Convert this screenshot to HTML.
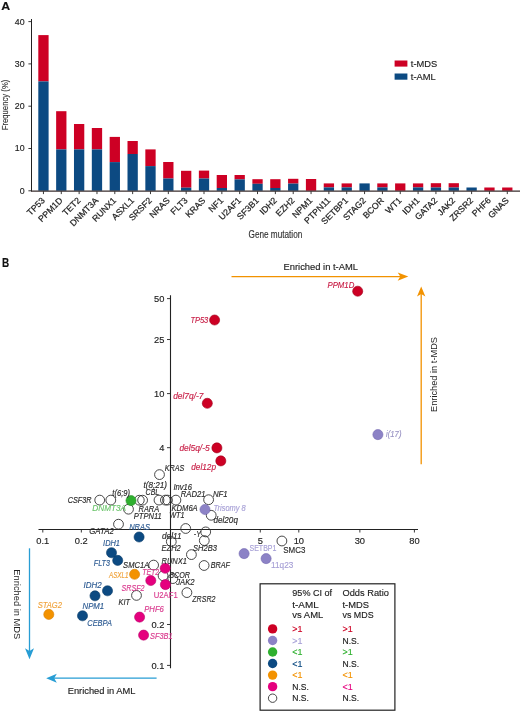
<!DOCTYPE html>
<html><head><meta charset="utf-8"><style>
html,body{margin:0;padding:0;background:#fff;}
body{width:520px;height:711px;overflow:hidden;}
svg{display:block;font-family:"Liberation Sans",sans-serif;will-change:transform;}
</style></head><body>
<svg width="520" height="711" viewBox="0 0 520 711">
<text x="1.20" y="10.40" font-size="11.4" fill="#111" text-anchor="start" stroke="#111" stroke-width="0.15" font-weight="bold" textLength="8.90" lengthAdjust="spacingAndGlyphs" >A</text>
<line x1="31.5" y1="19" x2="31.5" y2="191.3" stroke="#222" stroke-width="1"/>
<line x1="28.4" y1="190.80" x2="31.5" y2="190.80" stroke="#222" stroke-width="0.9"/>
<text x="24.60" y="193.70" font-size="8.8" fill="#222" text-anchor="end" stroke="#222" stroke-width="0.15" >0</text>
<line x1="28.4" y1="148.50" x2="31.5" y2="148.50" stroke="#222" stroke-width="0.9"/>
<text x="24.60" y="151.40" font-size="8.8" fill="#222" text-anchor="end" stroke="#222" stroke-width="0.15" >10</text>
<line x1="28.4" y1="106.20" x2="31.5" y2="106.20" stroke="#222" stroke-width="0.9"/>
<text x="24.60" y="109.10" font-size="8.8" fill="#222" text-anchor="end" stroke="#222" stroke-width="0.15" >20</text>
<line x1="28.4" y1="63.90" x2="31.5" y2="63.90" stroke="#222" stroke-width="0.9"/>
<text x="24.60" y="66.80" font-size="8.8" fill="#222" text-anchor="end" stroke="#222" stroke-width="0.15" >30</text>
<line x1="28.4" y1="21.60" x2="31.5" y2="21.60" stroke="#222" stroke-width="0.9"/>
<text x="24.60" y="24.50" font-size="8.8" fill="#222" text-anchor="end" stroke="#222" stroke-width="0.15" >40</text>
<rect x="38.30" y="35.10" width="10.3" height="46.30" fill="#cd0024"/>
<rect x="38.30" y="81.40" width="10.3" height="109.40" fill="#0c4a82"/>
<rect x="56.14" y="111.20" width="10.3" height="38.20" fill="#cd0024"/>
<rect x="56.14" y="149.40" width="10.3" height="41.40" fill="#0c4a82"/>
<rect x="73.98" y="124.00" width="10.3" height="25.40" fill="#cd0024"/>
<rect x="73.98" y="149.40" width="10.3" height="41.40" fill="#0c4a82"/>
<rect x="91.82" y="128.00" width="10.3" height="21.40" fill="#cd0024"/>
<rect x="91.82" y="149.40" width="10.3" height="41.40" fill="#0c4a82"/>
<rect x="109.66" y="136.90" width="10.3" height="25.20" fill="#cd0024"/>
<rect x="109.66" y="162.10" width="10.3" height="28.70" fill="#0c4a82"/>
<rect x="127.50" y="141.00" width="10.3" height="13.00" fill="#cd0024"/>
<rect x="127.50" y="154.00" width="10.3" height="36.80" fill="#0c4a82"/>
<rect x="145.34" y="149.40" width="10.3" height="16.70" fill="#cd0024"/>
<rect x="145.34" y="166.10" width="10.3" height="24.70" fill="#0c4a82"/>
<rect x="163.18" y="162.00" width="10.3" height="16.50" fill="#cd0024"/>
<rect x="163.18" y="178.50" width="10.3" height="12.30" fill="#0c4a82"/>
<rect x="181.02" y="170.80" width="10.3" height="16.90" fill="#cd0024"/>
<rect x="181.02" y="187.70" width="10.3" height="3.10" fill="#0c4a82"/>
<rect x="198.86" y="170.60" width="10.3" height="7.90" fill="#cd0024"/>
<rect x="198.86" y="178.50" width="10.3" height="12.30" fill="#0c4a82"/>
<rect x="216.70" y="175.00" width="10.3" height="13.00" fill="#cd0024"/>
<rect x="216.70" y="188.00" width="10.3" height="2.80" fill="#0c4a82"/>
<rect x="234.54" y="175.00" width="10.3" height="4.40" fill="#cd0024"/>
<rect x="234.54" y="179.40" width="10.3" height="11.40" fill="#0c4a82"/>
<rect x="252.38" y="179.20" width="10.3" height="4.60" fill="#cd0024"/>
<rect x="252.38" y="183.80" width="10.3" height="7.00" fill="#0c4a82"/>
<rect x="270.22" y="179.20" width="10.3" height="8.80" fill="#cd0024"/>
<rect x="270.22" y="188.00" width="10.3" height="2.80" fill="#0c4a82"/>
<rect x="288.06" y="178.80" width="10.3" height="4.80" fill="#cd0024"/>
<rect x="288.06" y="183.60" width="10.3" height="7.20" fill="#0c4a82"/>
<rect x="305.90" y="179.00" width="10.3" height="11.80" fill="#cd0024"/>
<rect x="323.74" y="183.40" width="10.3" height="4.00" fill="#cd0024"/>
<rect x="323.74" y="187.40" width="10.3" height="3.40" fill="#0c4a82"/>
<rect x="341.58" y="183.40" width="10.3" height="4.00" fill="#cd0024"/>
<rect x="341.58" y="187.40" width="10.3" height="3.40" fill="#0c4a82"/>
<rect x="359.42" y="183.40" width="10.3" height="7.40" fill="#0c4a82"/>
<rect x="377.26" y="183.40" width="10.3" height="4.00" fill="#cd0024"/>
<rect x="377.26" y="187.40" width="10.3" height="3.40" fill="#0c4a82"/>
<rect x="395.10" y="183.40" width="10.3" height="7.40" fill="#cd0024"/>
<rect x="412.94" y="183.40" width="10.3" height="4.00" fill="#cd0024"/>
<rect x="412.94" y="187.40" width="10.3" height="3.40" fill="#0c4a82"/>
<rect x="430.78" y="183.20" width="10.3" height="4.30" fill="#cd0024"/>
<rect x="430.78" y="187.50" width="10.3" height="3.30" fill="#0c4a82"/>
<rect x="448.62" y="183.20" width="10.3" height="4.30" fill="#cd0024"/>
<rect x="448.62" y="187.50" width="10.3" height="3.30" fill="#0c4a82"/>
<rect x="466.46" y="187.50" width="10.3" height="3.30" fill="#0c4a82"/>
<rect x="484.30" y="187.50" width="10.3" height="3.30" fill="#cd0024"/>
<rect x="502.14" y="187.50" width="10.3" height="3.30" fill="#cd0024"/>
<line x1="31.0" y1="191.10000000000002" x2="520" y2="191.10000000000002" stroke="#3a2e2e" stroke-width="1.1"/>
<line x1="43.45" y1="191.3" x2="43.45" y2="194.10000000000002" stroke="#222" stroke-width="0.9"/>
<text x="0" y="0" font-size="8.8" fill="#222" stroke="#222" stroke-width="0.22" text-anchor="end" transform="translate(45.45,201.10) rotate(-45)">TP53</text>
<line x1="61.29" y1="191.3" x2="61.29" y2="194.10000000000002" stroke="#222" stroke-width="0.9"/>
<text x="0" y="0" font-size="8.8" fill="#222" stroke="#222" stroke-width="0.22" text-anchor="end" transform="translate(63.29,201.10) rotate(-45)">PPM1D</text>
<line x1="79.13" y1="191.3" x2="79.13" y2="194.10000000000002" stroke="#222" stroke-width="0.9"/>
<text x="0" y="0" font-size="8.8" fill="#222" stroke="#222" stroke-width="0.22" text-anchor="end" transform="translate(81.13,201.10) rotate(-45)">TET2</text>
<line x1="96.97" y1="191.3" x2="96.97" y2="194.10000000000002" stroke="#222" stroke-width="0.9"/>
<text x="0" y="0" font-size="8.8" fill="#222" stroke="#222" stroke-width="0.22" text-anchor="end" transform="translate(98.97,201.10) rotate(-45)">DNMT3A</text>
<line x1="114.81" y1="191.3" x2="114.81" y2="194.10000000000002" stroke="#222" stroke-width="0.9"/>
<text x="0" y="0" font-size="8.8" fill="#222" stroke="#222" stroke-width="0.22" text-anchor="end" transform="translate(116.81,201.10) rotate(-45)">RUNX1</text>
<line x1="132.65" y1="191.3" x2="132.65" y2="194.10000000000002" stroke="#222" stroke-width="0.9"/>
<text x="0" y="0" font-size="8.8" fill="#222" stroke="#222" stroke-width="0.22" text-anchor="end" transform="translate(134.65,201.10) rotate(-45)">ASXL1</text>
<line x1="150.49" y1="191.3" x2="150.49" y2="194.10000000000002" stroke="#222" stroke-width="0.9"/>
<text x="0" y="0" font-size="8.8" fill="#222" stroke="#222" stroke-width="0.22" text-anchor="end" transform="translate(152.49,201.10) rotate(-45)">SRSF2</text>
<line x1="168.33" y1="191.3" x2="168.33" y2="194.10000000000002" stroke="#222" stroke-width="0.9"/>
<text x="0" y="0" font-size="8.8" fill="#222" stroke="#222" stroke-width="0.22" text-anchor="end" transform="translate(170.33,201.10) rotate(-45)">NRAS</text>
<line x1="186.17" y1="191.3" x2="186.17" y2="194.10000000000002" stroke="#222" stroke-width="0.9"/>
<text x="0" y="0" font-size="8.8" fill="#222" stroke="#222" stroke-width="0.22" text-anchor="end" transform="translate(188.17,201.10) rotate(-45)">FLT3</text>
<line x1="204.01" y1="191.3" x2="204.01" y2="194.10000000000002" stroke="#222" stroke-width="0.9"/>
<text x="0" y="0" font-size="8.8" fill="#222" stroke="#222" stroke-width="0.22" text-anchor="end" transform="translate(206.01,201.10) rotate(-45)">KRAS</text>
<line x1="221.85" y1="191.3" x2="221.85" y2="194.10000000000002" stroke="#222" stroke-width="0.9"/>
<text x="0" y="0" font-size="8.8" fill="#222" stroke="#222" stroke-width="0.22" text-anchor="end" transform="translate(223.85,201.10) rotate(-45)">NF1</text>
<line x1="239.69" y1="191.3" x2="239.69" y2="194.10000000000002" stroke="#222" stroke-width="0.9"/>
<text x="0" y="0" font-size="8.8" fill="#222" stroke="#222" stroke-width="0.22" text-anchor="end" transform="translate(241.69,201.10) rotate(-45)">U2AF1</text>
<line x1="257.53" y1="191.3" x2="257.53" y2="194.10000000000002" stroke="#222" stroke-width="0.9"/>
<text x="0" y="0" font-size="8.8" fill="#222" stroke="#222" stroke-width="0.22" text-anchor="end" transform="translate(259.53,201.10) rotate(-45)">SF3B1</text>
<line x1="275.37" y1="191.3" x2="275.37" y2="194.10000000000002" stroke="#222" stroke-width="0.9"/>
<text x="0" y="0" font-size="8.8" fill="#222" stroke="#222" stroke-width="0.22" text-anchor="end" transform="translate(277.37,201.10) rotate(-45)">IDH2</text>
<line x1="293.21" y1="191.3" x2="293.21" y2="194.10000000000002" stroke="#222" stroke-width="0.9"/>
<text x="0" y="0" font-size="8.8" fill="#222" stroke="#222" stroke-width="0.22" text-anchor="end" transform="translate(295.21,201.10) rotate(-45)">EZH2</text>
<line x1="311.05" y1="191.3" x2="311.05" y2="194.10000000000002" stroke="#222" stroke-width="0.9"/>
<text x="0" y="0" font-size="8.8" fill="#222" stroke="#222" stroke-width="0.22" text-anchor="end" transform="translate(313.05,201.10) rotate(-45)">NPM1</text>
<line x1="328.89" y1="191.3" x2="328.89" y2="194.10000000000002" stroke="#222" stroke-width="0.9"/>
<text x="0" y="0" font-size="8.8" fill="#222" stroke="#222" stroke-width="0.22" text-anchor="end" transform="translate(330.89,201.10) rotate(-45)">PTPN11</text>
<line x1="346.73" y1="191.3" x2="346.73" y2="194.10000000000002" stroke="#222" stroke-width="0.9"/>
<text x="0" y="0" font-size="8.8" fill="#222" stroke="#222" stroke-width="0.22" text-anchor="end" transform="translate(348.73,201.10) rotate(-45)">SETBP1</text>
<line x1="364.57" y1="191.3" x2="364.57" y2="194.10000000000002" stroke="#222" stroke-width="0.9"/>
<text x="0" y="0" font-size="8.8" fill="#222" stroke="#222" stroke-width="0.22" text-anchor="end" transform="translate(366.57,201.10) rotate(-45)">STAG2</text>
<line x1="382.41" y1="191.3" x2="382.41" y2="194.10000000000002" stroke="#222" stroke-width="0.9"/>
<text x="0" y="0" font-size="8.8" fill="#222" stroke="#222" stroke-width="0.22" text-anchor="end" transform="translate(384.41,201.10) rotate(-45)">BCOR</text>
<line x1="400.25" y1="191.3" x2="400.25" y2="194.10000000000002" stroke="#222" stroke-width="0.9"/>
<text x="0" y="0" font-size="8.8" fill="#222" stroke="#222" stroke-width="0.22" text-anchor="end" transform="translate(402.25,201.10) rotate(-45)">WT1</text>
<line x1="418.09" y1="191.3" x2="418.09" y2="194.10000000000002" stroke="#222" stroke-width="0.9"/>
<text x="0" y="0" font-size="8.8" fill="#222" stroke="#222" stroke-width="0.22" text-anchor="end" transform="translate(420.09,201.10) rotate(-45)">IDH1</text>
<line x1="435.93" y1="191.3" x2="435.93" y2="194.10000000000002" stroke="#222" stroke-width="0.9"/>
<text x="0" y="0" font-size="8.8" fill="#222" stroke="#222" stroke-width="0.22" text-anchor="end" transform="translate(437.93,201.10) rotate(-45)">GATA2</text>
<line x1="453.77" y1="191.3" x2="453.77" y2="194.10000000000002" stroke="#222" stroke-width="0.9"/>
<text x="0" y="0" font-size="8.8" fill="#222" stroke="#222" stroke-width="0.22" text-anchor="end" transform="translate(455.77,201.10) rotate(-45)">JAK2</text>
<line x1="471.61" y1="191.3" x2="471.61" y2="194.10000000000002" stroke="#222" stroke-width="0.9"/>
<text x="0" y="0" font-size="8.8" fill="#222" stroke="#222" stroke-width="0.22" text-anchor="end" transform="translate(473.61,201.10) rotate(-45)">ZRSR2</text>
<line x1="489.45" y1="191.3" x2="489.45" y2="194.10000000000002" stroke="#222" stroke-width="0.9"/>
<text x="0" y="0" font-size="8.8" fill="#222" stroke="#222" stroke-width="0.22" text-anchor="end" transform="translate(491.45,201.10) rotate(-45)">PHF6</text>
<line x1="507.29" y1="191.3" x2="507.29" y2="194.10000000000002" stroke="#222" stroke-width="0.9"/>
<text x="0" y="0" font-size="8.8" fill="#222" stroke="#222" stroke-width="0.22" text-anchor="end" transform="translate(509.29,201.10) rotate(-45)">GNAS</text>
<text x="248.50" y="237.70" font-size="10.2" fill="#333" text-anchor="start" stroke="#333" stroke-width="0.15" textLength="53.80" lengthAdjust="spacingAndGlyphs" >Gene mutation</text>
<text x="0" y="0" font-size="9.5" fill="#333" stroke="#333" stroke-width="0.15" text-anchor="middle" textLength="50.7" lengthAdjust="spacingAndGlyphs" transform="translate(8.3,105.0) rotate(-90)">Frequency (%)</text>
<rect x="394.6" y="60.5" width="12.8" height="6.1" fill="#cd0024"/>
<rect x="394.6" y="73.5" width="12.8" height="6.2" fill="#0c4a82"/>
<text x="410.80" y="66.70" font-size="8.6" fill="#222" text-anchor="start" stroke="#222" stroke-width="0.15" textLength="26.40" lengthAdjust="spacingAndGlyphs" >t-MDS</text>
<text x="410.80" y="79.80" font-size="8.6" fill="#222" text-anchor="start" stroke="#222" stroke-width="0.15" textLength="24.90" lengthAdjust="spacingAndGlyphs" >t-AML</text>
<text x="1.90" y="266.90" font-size="12.4" fill="#111" text-anchor="start" stroke="#111" stroke-width="0.15" font-weight="bold" textLength="7.20" lengthAdjust="spacingAndGlyphs" >B</text>
<line x1="231.5" y1="276.6" x2="402" y2="276.6" stroke="#f29200" stroke-width="1.3"/>
<path d="M408.3,276.6 L397.7,272.4 L400.3,276.6 L397.7,280.8 Z" fill="#f29200"/>
<line x1="421.2" y1="464.2" x2="421.2" y2="292" stroke="#f29200" stroke-width="1.3"/>
<path d="M421.2,286.4 L417.0,296.6 L421.2,294.0 L425.4,296.6 Z" fill="#f29200"/>
<line x1="156.6" y1="678.2" x2="52" y2="678.2" stroke="#279dd4" stroke-width="1.3"/>
<path d="M46.2,678.2 L56.8,673.7 L54.2,678.2 L56.8,682.7 Z" fill="#279dd4"/>
<line x1="29.5" y1="548.3" x2="29.5" y2="653" stroke="#279dd4" stroke-width="1.3"/>
<path d="M29.5,659.2 L25.0,648.2 L29.5,650.9 L34.0,648.2 Z" fill="#279dd4"/>
<text x="283.50" y="270.00" font-size="9.4" fill="#222" text-anchor="start" stroke="#222" stroke-width="0.15" textLength="74.50" lengthAdjust="spacingAndGlyphs" >Enriched in t-AML</text>
<text x="0" y="0" font-size="9.3" fill="#222" textLength="75" lengthAdjust="spacingAndGlyphs" transform="translate(437.1,412.0) rotate(-90)">Enriched in t-MDS</text>
<text x="67.70" y="694.10" font-size="9.2" fill="#222" text-anchor="start" stroke="#222" stroke-width="0.15" textLength="67.80" lengthAdjust="spacingAndGlyphs" >Enriched in AML</text>
<text x="0" y="0" font-size="9.3" fill="#222" textLength="70" lengthAdjust="spacingAndGlyphs" transform="translate(14.0,569.3) rotate(90)">Enriched in MDS</text>
<line x1="170.5" y1="295.2" x2="170.5" y2="668.2" stroke="#222" stroke-width="1.1"/>
<line x1="38.5" y1="529.5" x2="418.0" y2="529.5" stroke="#222" stroke-width="1.1"/>
<line x1="167.0" y1="298.61" x2="170.5" y2="298.61" stroke="#222" stroke-width="0.9"/>
<text x="164.40" y="301.91" font-size="9.3" fill="#222" text-anchor="end" stroke="#222" stroke-width="0.15" >50</text>
<line x1="167.0" y1="339.52" x2="170.5" y2="339.52" stroke="#222" stroke-width="0.9"/>
<text x="164.40" y="342.82" font-size="9.3" fill="#222" text-anchor="end" stroke="#222" stroke-width="0.15" >25</text>
<line x1="167.0" y1="393.60" x2="170.5" y2="393.60" stroke="#222" stroke-width="0.9"/>
<text x="164.40" y="396.90" font-size="9.3" fill="#222" text-anchor="end" stroke="#222" stroke-width="0.15" >10</text>
<line x1="167.0" y1="447.68" x2="170.5" y2="447.68" stroke="#222" stroke-width="0.9"/>
<text x="164.40" y="450.98" font-size="9.3" fill="#222" text-anchor="end" stroke="#222" stroke-width="0.15" >4</text>
<line x1="167.0" y1="624.49" x2="170.5" y2="624.49" stroke="#222" stroke-width="0.9"/>
<text x="164.40" y="627.79" font-size="9.3" fill="#222" text-anchor="end" stroke="#222" stroke-width="0.15" >0.2</text>
<line x1="167.0" y1="665.40" x2="170.5" y2="665.40" stroke="#222" stroke-width="0.9"/>
<text x="164.40" y="668.70" font-size="9.3" fill="#222" text-anchor="end" stroke="#222" stroke-width="0.15" >0.1</text>
<line x1="42.80" y1="529.5" x2="42.80" y2="532.5" stroke="#222" stroke-width="0.9"/>
<text x="42.80" y="543.90" font-size="9.3" fill="#222" text-anchor="middle" stroke="#222" stroke-width="0.15" >0.1</text>
<line x1="81.33" y1="529.5" x2="81.33" y2="532.5" stroke="#222" stroke-width="0.9"/>
<text x="81.33" y="543.90" font-size="9.3" fill="#222" text-anchor="middle" stroke="#222" stroke-width="0.15" >0.2</text>
<line x1="260.27" y1="529.5" x2="260.27" y2="532.5" stroke="#222" stroke-width="0.9"/>
<text x="260.27" y="543.90" font-size="9.3" fill="#222" text-anchor="middle" stroke="#222" stroke-width="0.15" >5</text>
<line x1="298.80" y1="529.5" x2="298.80" y2="532.5" stroke="#222" stroke-width="0.9"/>
<text x="298.80" y="543.90" font-size="9.3" fill="#222" text-anchor="middle" stroke="#222" stroke-width="0.15" >10</text>
<line x1="359.87" y1="529.5" x2="359.87" y2="532.5" stroke="#222" stroke-width="0.9"/>
<text x="359.87" y="543.90" font-size="9.3" fill="#222" text-anchor="middle" stroke="#222" stroke-width="0.15" >30</text>
<line x1="414.40" y1="529.5" x2="414.40" y2="532.5" stroke="#222" stroke-width="0.9"/>
<text x="414.40" y="543.90" font-size="9.3" fill="#222" text-anchor="middle" stroke="#222" stroke-width="0.15" >80</text>
<circle cx="99.70" cy="500.10" r="4.90" fill="none" stroke="#333" stroke-width="0.9"/>
<circle cx="110.80" cy="500.10" r="4.90" fill="none" stroke="#333" stroke-width="0.9"/>
<circle cx="139.30" cy="500.20" r="4.90" fill="none" stroke="#333" stroke-width="0.9"/>
<circle cx="142.60" cy="500.20" r="4.90" fill="none" stroke="#333" stroke-width="0.9"/>
<circle cx="159.00" cy="500.10" r="4.90" fill="none" stroke="#333" stroke-width="0.9"/>
<circle cx="165.40" cy="500.10" r="4.90" fill="none" stroke="#333" stroke-width="0.9"/>
<circle cx="167.50" cy="500.10" r="4.90" fill="none" stroke="#333" stroke-width="0.9"/>
<circle cx="175.90" cy="500.10" r="4.90" fill="none" stroke="#333" stroke-width="0.9"/>
<circle cx="159.50" cy="474.60" r="4.90" fill="none" stroke="#333" stroke-width="0.9"/>
<circle cx="208.60" cy="499.70" r="4.90" fill="none" stroke="#333" stroke-width="0.9"/>
<circle cx="128.50" cy="509.20" r="4.90" fill="none" stroke="#333" stroke-width="0.9"/>
<circle cx="211.20" cy="515.30" r="4.90" fill="none" stroke="#333" stroke-width="0.9"/>
<circle cx="118.50" cy="524.20" r="4.90" fill="none" stroke="#333" stroke-width="0.9"/>
<circle cx="185.70" cy="528.50" r="4.90" fill="none" stroke="#333" stroke-width="0.9"/>
<circle cx="205.70" cy="531.90" r="4.90" fill="none" stroke="#333" stroke-width="0.9"/>
<circle cx="204.30" cy="540.60" r="4.90" fill="none" stroke="#333" stroke-width="0.9"/>
<circle cx="171.30" cy="541.60" r="4.90" fill="none" stroke="#333" stroke-width="0.9"/>
<circle cx="281.90" cy="541.00" r="4.90" fill="none" stroke="#333" stroke-width="0.9"/>
<circle cx="191.40" cy="554.60" r="4.90" fill="none" stroke="#333" stroke-width="0.9"/>
<circle cx="204.10" cy="565.50" r="4.90" fill="none" stroke="#333" stroke-width="0.9"/>
<circle cx="153.60" cy="565.10" r="4.90" fill="none" stroke="#333" stroke-width="0.9"/>
<circle cx="163.10" cy="575.80" r="4.90" fill="none" stroke="#333" stroke-width="0.9"/>
<circle cx="172.80" cy="578.60" r="4.90" fill="none" stroke="#333" stroke-width="0.9"/>
<circle cx="186.90" cy="592.60" r="4.90" fill="none" stroke="#333" stroke-width="0.9"/>
<circle cx="136.50" cy="595.40" r="4.90" fill="none" stroke="#333" stroke-width="0.9"/>
<circle cx="131.00" cy="500.60" r="5.05" fill="#2fb02f" stroke="#2e8f2e" stroke-width="0.6"/>
<circle cx="205.00" cy="509.50" r="5.05" fill="#8c82c6" stroke="#7468b0" stroke-width="0.6"/>
<circle cx="139.10" cy="537.00" r="5.05" fill="#0c4a82" stroke="#083a68" stroke-width="0.6"/>
<circle cx="111.50" cy="552.70" r="5.05" fill="#0c4a82" stroke="#083a68" stroke-width="0.6"/>
<circle cx="117.70" cy="560.40" r="5.05" fill="#0c4a82" stroke="#083a68" stroke-width="0.6"/>
<circle cx="107.50" cy="590.80" r="5.05" fill="#0c4a82" stroke="#083a68" stroke-width="0.6"/>
<circle cx="95.00" cy="595.80" r="5.05" fill="#0c4a82" stroke="#083a68" stroke-width="0.6"/>
<circle cx="82.50" cy="615.80" r="5.05" fill="#0c4a82" stroke="#083a68" stroke-width="0.6"/>
<circle cx="134.60" cy="574.30" r="5.05" fill="#f39200" stroke="#d98000" stroke-width="0.6"/>
<circle cx="48.80" cy="614.40" r="5.05" fill="#f39200" stroke="#d98000" stroke-width="0.6"/>
<circle cx="165.20" cy="568.30" r="5.05" fill="#e5007e" stroke="#b8006a" stroke-width="0.6"/>
<circle cx="150.80" cy="580.50" r="5.05" fill="#e5007e" stroke="#b8006a" stroke-width="0.6"/>
<circle cx="165.40" cy="584.60" r="5.05" fill="#e5007e" stroke="#b8006a" stroke-width="0.6"/>
<circle cx="139.60" cy="617.10" r="5.05" fill="#e5007e" stroke="#b8006a" stroke-width="0.6"/>
<circle cx="143.60" cy="635.10" r="5.05" fill="#e5007e" stroke="#b8006a" stroke-width="0.6"/>
<circle cx="244.10" cy="553.60" r="5.05" fill="#8c82c6" stroke="#7468b0" stroke-width="0.6"/>
<circle cx="266.10" cy="558.60" r="5.05" fill="#8c82c6" stroke="#7468b0" stroke-width="0.6"/>
<circle cx="377.90" cy="434.60" r="5.05" fill="#8c82c6" stroke="#7468b0" stroke-width="0.6"/>
<circle cx="357.70" cy="291.20" r="5.05" fill="#cd0024" stroke="#a0001c" stroke-width="0.6"/>
<circle cx="214.60" cy="320.00" r="5.05" fill="#cd0024" stroke="#a0001c" stroke-width="0.6"/>
<circle cx="207.30" cy="403.30" r="5.05" fill="#cd0024" stroke="#a0001c" stroke-width="0.6"/>
<circle cx="216.90" cy="447.90" r="5.05" fill="#cd0024" stroke="#a0001c" stroke-width="0.6"/>
<circle cx="220.80" cy="460.90" r="5.05" fill="#cd0024" stroke="#a0001c" stroke-width="0.6"/>
<text x="327.50" y="287.95" font-size="8.2" fill="#c81e46" text-anchor="start" stroke="#c81e46" stroke-width="0.15" font-style="italic" textLength="26.80" lengthAdjust="spacingAndGlyphs" >PPM1D</text>
<text x="190.40" y="322.95" font-size="8.2" fill="#c81e46" text-anchor="start" stroke="#c81e46" stroke-width="0.15" font-style="italic" textLength="17.90" lengthAdjust="spacingAndGlyphs" >TP53</text>
<text x="173.20" y="398.55" font-size="8.2" fill="#c81e46" text-anchor="start" stroke="#c81e46" stroke-width="0.15" font-style="italic" textLength="30.30" lengthAdjust="spacingAndGlyphs" >del7q/-7</text>
<text x="179.40" y="450.85" font-size="8.2" fill="#c81e46" text-anchor="start" stroke="#c81e46" stroke-width="0.15" font-style="italic" textLength="30.20" lengthAdjust="spacingAndGlyphs" >del5q/-5</text>
<text x="191.30" y="470.25" font-size="8.2" fill="#c81e46" text-anchor="start" stroke="#c81e46" stroke-width="0.15" font-style="italic" textLength="24.70" lengthAdjust="spacingAndGlyphs" >del12p</text>
<text x="386.00" y="437.15" font-size="8.2" fill="#9a94c4" text-anchor="start" stroke="#9a94c4" stroke-width="0.15" font-style="italic" textLength="15.50" lengthAdjust="spacingAndGlyphs" >i(17)</text>
<text x="164.80" y="471.25" font-size="8.2" fill="#2a2a2a" text-anchor="start" stroke="#2a2a2a" stroke-width="0.15" font-style="italic" textLength="19.60" lengthAdjust="spacingAndGlyphs" >KRAS</text>
<text x="143.50" y="487.55" font-size="8.2" fill="#2a2a2a" text-anchor="start" stroke="#2a2a2a" stroke-width="0.15" font-style="italic" textLength="23.60" lengthAdjust="spacingAndGlyphs" >t(8;21)</text>
<text x="173.40" y="490.25" font-size="8.2" fill="#2a2a2a" text-anchor="start" stroke="#2a2a2a" stroke-width="0.15" font-style="italic" textLength="18.60" lengthAdjust="spacingAndGlyphs" >Inv16</text>
<text x="145.60" y="495.45" font-size="8.2" fill="#2a2a2a" text-anchor="start" stroke="#2a2a2a" stroke-width="0.15" font-style="italic" textLength="13.60" lengthAdjust="spacingAndGlyphs" >CBL</text>
<text x="180.80" y="496.75" font-size="8.2" fill="#2a2a2a" text-anchor="start" stroke="#2a2a2a" stroke-width="0.15" font-style="italic" textLength="24.60" lengthAdjust="spacingAndGlyphs" >RAD21</text>
<text x="213.00" y="496.75" font-size="8.2" fill="#2a2a2a" text-anchor="start" stroke="#2a2a2a" stroke-width="0.15" font-style="italic" textLength="14.70" lengthAdjust="spacingAndGlyphs" >NF1</text>
<text x="67.70" y="502.95" font-size="8.2" fill="#2a2a2a" text-anchor="start" stroke="#2a2a2a" stroke-width="0.15" font-style="italic" textLength="23.80" lengthAdjust="spacingAndGlyphs" >CSF3R</text>
<text x="112.30" y="496.45" font-size="8.2" fill="#2a2a2a" text-anchor="start" stroke="#2a2a2a" stroke-width="0.15" font-style="italic" textLength="17.70" lengthAdjust="spacingAndGlyphs" >t(6;9)</text>
<text x="92.30" y="511.15" font-size="8.2" fill="#6cc46c" text-anchor="start" stroke="#6cc46c" stroke-width="0.15" font-style="italic" textLength="33.70" lengthAdjust="spacingAndGlyphs" >DNMT3A</text>
<text x="138.50" y="511.55" font-size="8.2" fill="#2a2a2a" text-anchor="start" stroke="#2a2a2a" stroke-width="0.15" font-style="italic" textLength="20.70" lengthAdjust="spacingAndGlyphs" >RARA</text>
<text x="171.50" y="510.65" font-size="8.2" fill="#2a2a2a" text-anchor="start" stroke="#2a2a2a" stroke-width="0.15" font-style="italic" textLength="26.20" lengthAdjust="spacingAndGlyphs" >KDM6A</text>
<text x="213.50" y="511.25" font-size="8.2" fill="#a7a0d6" text-anchor="start" stroke="#a7a0d6" stroke-width="0.15" font-style="italic" textLength="32.20" lengthAdjust="spacingAndGlyphs" >Trisomy 8</text>
<text x="133.80" y="518.55" font-size="8.2" fill="#2a2a2a" text-anchor="start" stroke="#2a2a2a" stroke-width="0.15" font-style="italic" textLength="28.00" lengthAdjust="spacingAndGlyphs" >PTPN11</text>
<text x="169.20" y="517.55" font-size="8.2" fill="#2a2a2a" text-anchor="start" stroke="#2a2a2a" stroke-width="0.15" font-style="italic" textLength="15.40" lengthAdjust="spacingAndGlyphs" >WT1</text>
<text x="213.50" y="522.75" font-size="8.2" fill="#2a2a2a" text-anchor="start" stroke="#2a2a2a" stroke-width="0.15" font-style="italic" textLength="24.40" lengthAdjust="spacingAndGlyphs" >del20q</text>
<text x="129.20" y="530.35" font-size="8.2" fill="#2c5a92" text-anchor="start" stroke="#2c5a92" stroke-width="0.15" font-style="italic" textLength="20.80" lengthAdjust="spacingAndGlyphs" >NRAS</text>
<text x="89.20" y="533.55" font-size="8.2" fill="#2a2a2a" text-anchor="start" stroke="#2a2a2a" stroke-width="0.15" font-style="italic" textLength="24.60" lengthAdjust="spacingAndGlyphs" >GATA2</text>
<text x="162.00" y="538.75" font-size="8.2" fill="#2a2a2a" text-anchor="start" stroke="#2a2a2a" stroke-width="0.15" font-style="italic" textLength="19.50" lengthAdjust="spacingAndGlyphs" >del11</text>
<text x="193.80" y="537.15" font-size="8.2" fill="#2a2a2a" text-anchor="start" stroke="#2a2a2a" stroke-width="0.15" font-style="italic" textLength="7.00" lengthAdjust="spacingAndGlyphs" >-Y</text>
<text x="103.10" y="546.15" font-size="8.2" fill="#2c5a92" text-anchor="start" stroke="#2c5a92" stroke-width="0.15" font-style="italic" textLength="16.90" lengthAdjust="spacingAndGlyphs" >IDH1</text>
<text x="161.50" y="551.05" font-size="8.2" fill="#2a2a2a" text-anchor="start" stroke="#2a2a2a" stroke-width="0.15" font-style="italic" textLength="19.30" lengthAdjust="spacingAndGlyphs" >EZH2</text>
<text x="193.00" y="550.55" font-size="8.2" fill="#2a2a2a" text-anchor="start" stroke="#2a2a2a" stroke-width="0.15" font-style="italic" textLength="23.90" lengthAdjust="spacingAndGlyphs" >SH2B3</text>
<text x="249.50" y="550.85" font-size="8.2" fill="#a7a0d6" text-anchor="start" stroke="#a7a0d6" stroke-width="0.15" textLength="26.90" lengthAdjust="spacingAndGlyphs" >SETBP1</text>
<text x="283.30" y="552.55" font-size="8.2" fill="#2a2a2a" text-anchor="start" stroke="#2a2a2a" stroke-width="0.15" textLength="22.10" lengthAdjust="spacingAndGlyphs" >SMC3</text>
<text x="161.50" y="564.15" font-size="8.2" fill="#2a2a2a" text-anchor="start" stroke="#2a2a2a" stroke-width="0.15" font-style="italic" textLength="25.40" lengthAdjust="spacingAndGlyphs" >RUNX1</text>
<text x="93.80" y="566.45" font-size="8.2" fill="#2c5a92" text-anchor="start" stroke="#2c5a92" stroke-width="0.15" font-style="italic" textLength="16.20" lengthAdjust="spacingAndGlyphs" >FLT3</text>
<text x="271.00" y="567.55" font-size="8.2" fill="#a7a0d6" text-anchor="start" stroke="#a7a0d6" stroke-width="0.15" textLength="22.30" lengthAdjust="spacingAndGlyphs" >11q23</text>
<text x="210.80" y="567.95" font-size="8.2" fill="#2a2a2a" text-anchor="start" stroke="#2a2a2a" stroke-width="0.15" font-style="italic" textLength="19.20" lengthAdjust="spacingAndGlyphs" >BRAF</text>
<text x="123.10" y="568.35" font-size="8.2" fill="#2a2a2a" text-anchor="start" stroke="#2a2a2a" stroke-width="0.15" font-style="italic" textLength="26.10" lengthAdjust="spacingAndGlyphs" >SMC1A</text>
<text x="142.30" y="575.25" font-size="8.2" fill="#d93a8e" text-anchor="start" stroke="#d93a8e" stroke-width="0.15" font-style="italic" textLength="16.90" lengthAdjust="spacingAndGlyphs" >TET2</text>
<text x="109.00" y="577.55" font-size="8.2" fill="#f0a23a" text-anchor="start" stroke="#f0a23a" stroke-width="0.15" font-style="italic" textLength="19.50" lengthAdjust="spacingAndGlyphs" >ASXL1</text>
<text x="169.20" y="577.95" font-size="8.2" fill="#2a2a2a" text-anchor="start" stroke="#2a2a2a" stroke-width="0.15" font-style="italic" textLength="20.80" lengthAdjust="spacingAndGlyphs" >BCOR</text>
<text x="176.20" y="585.15" font-size="8.2" fill="#2a2a2a" text-anchor="start" stroke="#2a2a2a" stroke-width="0.15" font-style="italic" textLength="18.40" lengthAdjust="spacingAndGlyphs" >JAK2</text>
<text x="83.50" y="587.95" font-size="8.2" fill="#2c5a92" text-anchor="start" stroke="#2c5a92" stroke-width="0.15" font-style="italic" textLength="18.20" lengthAdjust="spacingAndGlyphs" >IDH2</text>
<text x="121.50" y="590.65" font-size="8.2" fill="#d93a8e" text-anchor="start" stroke="#d93a8e" stroke-width="0.15" font-style="italic" textLength="23.10" lengthAdjust="spacingAndGlyphs" >SRSF2</text>
<text x="153.80" y="597.55" font-size="8.2" fill="#d93a8e" text-anchor="start" stroke="#d93a8e" stroke-width="0.15" textLength="23.90" lengthAdjust="spacingAndGlyphs" >U2AF1</text>
<text x="192.30" y="602.15" font-size="8.2" fill="#2a2a2a" text-anchor="start" stroke="#2a2a2a" stroke-width="0.15" font-style="italic" textLength="23.10" lengthAdjust="spacingAndGlyphs" >ZRSR2</text>
<text x="118.50" y="605.25" font-size="8.2" fill="#2a2a2a" text-anchor="start" stroke="#2a2a2a" stroke-width="0.15" font-style="italic" textLength="11.50" lengthAdjust="spacingAndGlyphs" >KIT</text>
<text x="37.70" y="607.75" font-size="8.2" fill="#f0a23a" text-anchor="start" stroke="#f0a23a" stroke-width="0.15" font-style="italic" textLength="24.20" lengthAdjust="spacingAndGlyphs" >STAG2</text>
<text x="82.50" y="608.75" font-size="8.2" fill="#2c5a92" text-anchor="start" stroke="#2c5a92" stroke-width="0.15" font-style="italic" textLength="21.70" lengthAdjust="spacingAndGlyphs" >NPM1</text>
<text x="144.20" y="612.15" font-size="8.2" fill="#d93a8e" text-anchor="start" stroke="#d93a8e" stroke-width="0.15" font-style="italic" textLength="19.70" lengthAdjust="spacingAndGlyphs" >PHF6</text>
<text x="87.30" y="625.65" font-size="8.2" fill="#2c5a92" text-anchor="start" stroke="#2c5a92" stroke-width="0.15" font-style="italic" textLength="24.60" lengthAdjust="spacingAndGlyphs" >CEBPA</text>
<text x="150.00" y="638.75" font-size="8.2" fill="#d93a8e" text-anchor="start" stroke="#d93a8e" stroke-width="0.15" font-style="italic" textLength="22.50" lengthAdjust="spacingAndGlyphs" >SF3B1</text>
<rect x="260.1" y="583.8" width="134.8" height="126.4" fill="none" stroke="#222" stroke-width="1.2"/>
<text x="292.30" y="595.90" font-size="9.2" fill="#222" text-anchor="start" stroke="#222" stroke-width="0.15" textLength="39.80" lengthAdjust="spacingAndGlyphs" >95% CI of</text>
<text x="292.30" y="607.50" font-size="9.2" fill="#222" text-anchor="start" stroke="#222" stroke-width="0.15" textLength="26.40" lengthAdjust="spacingAndGlyphs" >t-AML</text>
<text x="292.30" y="618.10" font-size="9.2" fill="#222" text-anchor="start" stroke="#222" stroke-width="0.15" textLength="31.00" lengthAdjust="spacingAndGlyphs" >vs AML</text>
<text x="342.50" y="595.90" font-size="9.2" fill="#222" text-anchor="start" stroke="#222" stroke-width="0.15" textLength="46.40" lengthAdjust="spacingAndGlyphs" >Odds Ratio</text>
<text x="342.50" y="607.50" font-size="9.2" fill="#222" text-anchor="start" stroke="#222" stroke-width="0.15" textLength="26.50" lengthAdjust="spacingAndGlyphs" >t-MDS</text>
<text x="342.50" y="618.10" font-size="9.2" fill="#222" text-anchor="start" stroke="#222" stroke-width="0.15" textLength="31.10" lengthAdjust="spacingAndGlyphs" >vs MDS</text>
<circle cx="272.6" cy="628.90" r="4.7" fill="#cd0024"/>
<text x="292.30" y="632.10" font-size="9.2" fill="#cd0024" text-anchor="start" stroke="#cd0024" stroke-width="0.15" textLength="10.20" lengthAdjust="spacingAndGlyphs" >&gt;1</text>
<text x="342.50" y="632.10" font-size="9.2" fill="#cd0024" text-anchor="start" stroke="#cd0024" stroke-width="0.15" textLength="10.20" lengthAdjust="spacingAndGlyphs" >&gt;1</text>
<circle cx="272.6" cy="640.45" r="4.7" fill="#8c82c6"/>
<text x="292.30" y="643.65" font-size="9.2" fill="#a7a0d6" text-anchor="start" stroke="#a7a0d6" stroke-width="0.15" textLength="10.20" lengthAdjust="spacingAndGlyphs" >&gt;1</text>
<text x="342.50" y="643.65" font-size="9.2" fill="#222" text-anchor="start" stroke="#222" stroke-width="0.15" textLength="16.60" lengthAdjust="spacingAndGlyphs" >N.S.</text>
<circle cx="272.6" cy="652.00" r="4.7" fill="#2fb02f"/>
<text x="292.30" y="655.20" font-size="9.2" fill="#2fb02f" text-anchor="start" stroke="#2fb02f" stroke-width="0.15" textLength="10.20" lengthAdjust="spacingAndGlyphs" >&lt;1</text>
<text x="342.50" y="655.20" font-size="9.2" fill="#2fb02f" text-anchor="start" stroke="#2fb02f" stroke-width="0.15" textLength="10.20" lengthAdjust="spacingAndGlyphs" >&gt;1</text>
<circle cx="272.6" cy="663.55" r="4.7" fill="#0c4a82"/>
<text x="292.30" y="666.75" font-size="9.2" fill="#0c4a82" text-anchor="start" stroke="#0c4a82" stroke-width="0.15" textLength="10.20" lengthAdjust="spacingAndGlyphs" >&lt;1</text>
<text x="342.50" y="666.75" font-size="9.2" fill="#222" text-anchor="start" stroke="#222" stroke-width="0.15" textLength="16.60" lengthAdjust="spacingAndGlyphs" >N.S.</text>
<circle cx="272.6" cy="675.10" r="4.7" fill="#f39200"/>
<text x="292.30" y="678.30" font-size="9.2" fill="#f39200" text-anchor="start" stroke="#f39200" stroke-width="0.15" textLength="10.20" lengthAdjust="spacingAndGlyphs" >&lt;1</text>
<text x="342.50" y="678.30" font-size="9.2" fill="#f39200" text-anchor="start" stroke="#f39200" stroke-width="0.15" textLength="10.20" lengthAdjust="spacingAndGlyphs" >&lt;1</text>
<circle cx="272.6" cy="686.65" r="4.7" fill="#e5007e"/>
<text x="292.30" y="689.85" font-size="9.2" fill="#222" text-anchor="start" stroke="#222" stroke-width="0.15" textLength="16.60" lengthAdjust="spacingAndGlyphs" >N.S.</text>
<text x="342.50" y="689.85" font-size="9.2" fill="#e5007e" text-anchor="start" stroke="#e5007e" stroke-width="0.15" textLength="10.20" lengthAdjust="spacingAndGlyphs" >&lt;1</text>
<circle cx="272.6" cy="698.20" r="4.2" fill="none" stroke="#333" stroke-width="0.9"/>
<text x="292.30" y="701.40" font-size="9.2" fill="#222" text-anchor="start" stroke="#222" stroke-width="0.15" textLength="16.60" lengthAdjust="spacingAndGlyphs" >N.S.</text>
<text x="342.50" y="701.40" font-size="9.2" fill="#222" text-anchor="start" stroke="#222" stroke-width="0.15" textLength="16.60" lengthAdjust="spacingAndGlyphs" >N.S.</text>
</svg>
</body></html>
